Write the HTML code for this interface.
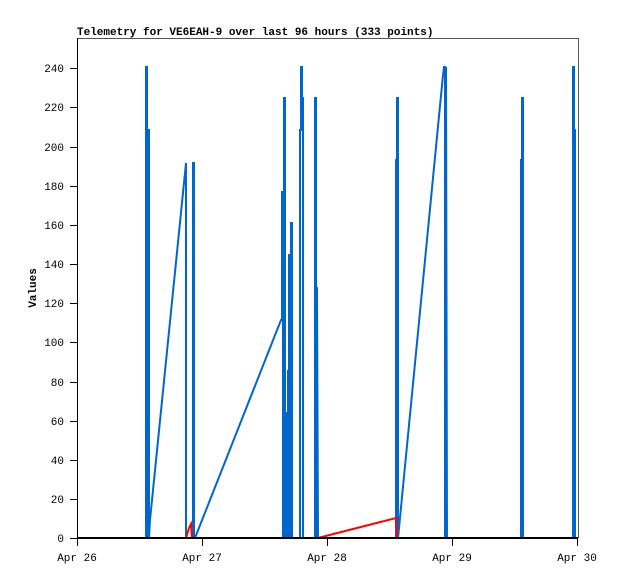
<!DOCTYPE html>
<html><head><meta charset="utf-8"><style>
body{margin:0;background:#fff}
svg text{font-family:"Liberation Mono",monospace;font-size:11px}
</style></head><body>
<svg width="618" height="579" xmlns="http://www.w3.org/2000/svg">
<rect width="618" height="579" fill="#fff"/>
<text x="77" y="35" font-weight="bold" font-size="12">Telemetry for VE6EAH-9 over last 96 hours (333 points)</text>
<line x1="77" y1="38.5" x2="578" y2="38.5" stroke="#555" stroke-width="1"/>
<line x1="578.5" y1="38" x2="578.5" y2="538" stroke="#555" stroke-width="1"/>
<line x1="77.5" y1="38" x2="77.5" y2="540" stroke="#000" stroke-width="1"/>
<g stroke="#000" stroke-width="1">
<line x1="70" y1="538.5" x2="77" y2="538.5"/><line x1="70" y1="499.5" x2="77" y2="499.5"/><line x1="70" y1="460.5" x2="77" y2="460.5"/><line x1="70" y1="421.5" x2="77" y2="421.5"/><line x1="70" y1="382.5" x2="77" y2="382.5"/><line x1="70" y1="342.5" x2="77" y2="342.5"/><line x1="70" y1="303.5" x2="77" y2="303.5"/><line x1="70" y1="264.5" x2="77" y2="264.5"/><line x1="70" y1="225.5" x2="77" y2="225.5"/><line x1="70" y1="186.5" x2="77" y2="186.5"/><line x1="70" y1="147.5" x2="77" y2="147.5"/><line x1="70" y1="107.5" x2="77" y2="107.5"/><line x1="70" y1="68.5" x2="77" y2="68.5"/>
<line x1="77.5" y1="538" x2="77.5" y2="546"/><line x1="202.5" y1="538" x2="202.5" y2="546"/><line x1="327.5" y1="538" x2="327.5" y2="546"/><line x1="452.5" y1="538" x2="452.5" y2="546"/><line x1="577.5" y1="538" x2="577.5" y2="546"/>
</g>
<g text-anchor="end">
<text x="64" y="542">0</text><text x="64" y="503">20</text><text x="64" y="464">40</text><text x="64" y="425">60</text><text x="64" y="386">80</text><text x="64" y="346">100</text><text x="64" y="307">120</text><text x="64" y="268">140</text><text x="64" y="229">160</text><text x="64" y="190">180</text><text x="64" y="151">200</text><text x="64" y="111">220</text><text x="64" y="72">240</text>
</g>
<g text-anchor="middle">
<text x="77" y="561">Apr 26</text><text x="202" y="561">Apr 27</text><text x="327" y="561">Apr 28</text><text x="452" y="561">Apr 29</text><text x="577" y="561">Apr 30</text>
</g>
<text transform="translate(36,288) rotate(-90)" text-anchor="middle" font-weight="bold">Values</text>
<polyline fill="none" stroke="#0066cc" stroke-width="2" points="146,538 146,67 147,67 147,538 148,538 148,130 149,130 149,350 149,538 150,520 186,163 186,538 187,538 193,538 193,163 194,163 194,538 195,538 281,320 282,320 282,192 283,192 283,538 284,538 284,98 285,98 285,538 286,412 287,538 288,538 288,371 289,371 289,255 290,255 290,538 291,538 291,223 292,223 292,538 293,538 300,538 300,130 301,130 301,67 302,67 302,98 303,98 303,538 304,538 315,538 315,98 316,98 316,538 317,287 318,538 396,538 396,160 397,160 397,98 398,98 398,538 399,528 443,75 444,67 445,67 445,538 446,538 446,67 447,538 521,538 521,160 522,160 522,98 523,98 523,538 524,538 573,538 573,67 574,67 574,130 575,130 575,333 575,538"/>
<polyline fill="none" stroke="#ff0000" stroke-width="2" points="186,538 189,528 191,524 192,538 318,538 396,518 397,538"/>
<line x1="77" y1="538" x2="578" y2="538" stroke="#000" stroke-width="2"/>
</svg>
</body></html>
